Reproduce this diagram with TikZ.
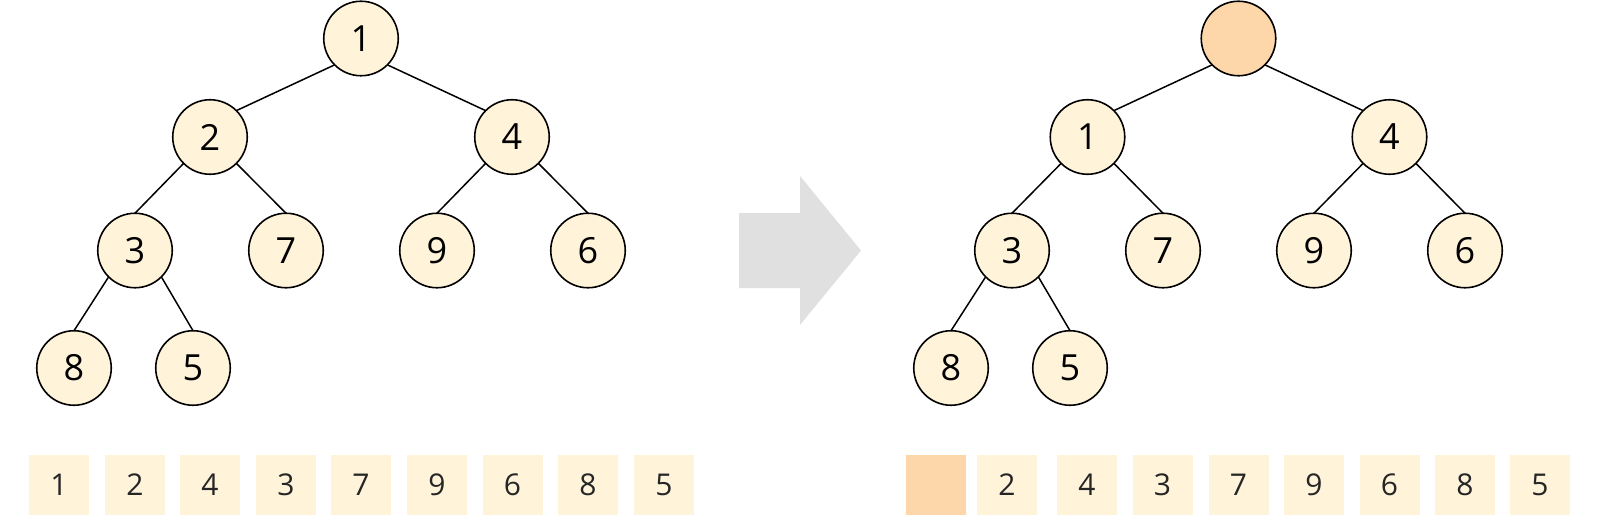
\documentclass[tikz,border=0pt]{standalone}
\usepackage{fontspec}
\setmainfont{Open Sans}
\definecolor{cream}{HTML}{FFF3DA}
\definecolor{peach}{HTML}{FDD6AA}
\definecolor{arrowgray}{HTML}{E0E0E0}
\begin{document}
\begin{tikzpicture}[x=1pt,y=-1pt,
  heapnode/.style={circle,draw=black,line width=1.6pt,fill=cream,minimum size=74.5pt,
    inner sep=0pt,outer sep=0pt,font=\fontsize{36}{40}\selectfont},
  cell/.style={rectangle,fill=cream,minimum size=60pt,inner sep=0pt,outer sep=0pt,
    text=black!85,font=\fontsize{30}{34}\selectfont},
  link/.style={line width=1.5pt}]
\useasboundingbox (0,0) rectangle (1600,516);
% left heap
\node[heapnode] (l1) at (361,38.5) {1};
\node[heapnode] (l2) at (210,137) {2};
\node[heapnode] (l4) at (512,137) {4};
\node[heapnode] (l3) at (135,250.5) {3};
\node[heapnode] (l7) at (286,250.5) {7};
\node[heapnode] (l9) at (437,250.5) {9};
\node[heapnode] (l6) at (588,250.5) {6};
\node[heapnode] (l8) at (74,368) {8};
\node[heapnode] (l5) at (193,368) {5};
\draw[link] (l1.south west) -- (l2.north east);
\draw[link] (l1.south east) -- (l4.north west);
\draw[link] (l2.south west) -- (l3.north);
\draw[link] (l2.south east) -- (l7.north);
\draw[link] (l4.south west) -- (l9.north);
\draw[link] (l4.south east) -- (l6.north);
\draw[link] (l3.south west) -- (l8.north);
\draw[link] (l3.south east) -- (l5.north);
% left array
\node[cell] (la1) at (59,485) {1};
\node[cell] (la2) at (135,485) {2};
\node[cell] (la3) at (210,485) {4};
\node[cell] (la4) at (286,485) {3};
\node[cell] (la5) at (361,485) {7};
\node[cell] (la6) at (437,485) {9};
\node[cell] (la7) at (512.5,485) {6};
\node[cell] (la8) at (588,485) {8};
\node[cell] (la9) at (664,485) {5};
% arrow
\fill[arrowgray] (739,213) -- (800,213) -- (800,176) -- (861,250.5) -- (800,325)
  -- (800,288) -- (739,288) -- cycle;
% right heap
\node[heapnode,fill=peach] (r0) at (1238.5,38.5) {};
\node[heapnode] (r1) at (1087.5,137) {1};
\node[heapnode] (r4) at (1389.5,137) {4};
\node[heapnode] (r3) at (1012,250.5) {3};
\node[heapnode] (r7) at (1163,250.5) {7};
\node[heapnode] (r9) at (1314,250.5) {9};
\node[heapnode] (r6) at (1465,250.5) {6};
\node[heapnode] (r8) at (951,368) {8};
\node[heapnode] (r5) at (1070,368) {5};
\draw[link] (r0.south west) -- (r1.north east);
\draw[link] (r0.south east) -- (r4.north west);
\draw[link] (r1.south west) -- (r3.north);
\draw[link] (r1.south east) -- (r7.north);
\draw[link] (r4.south west) -- (r9.north);
\draw[link] (r4.south east) -- (r6.north);
\draw[link] (r3.south west) -- (r8.north);
\draw[link] (r3.south east) -- (r5.north);
% right array
\node[cell,fill=peach] (ra1) at (936,485) {};
\node[cell] (ra2) at (1007,485) {2};
\node[cell] (ra3) at (1087,485) {4};
\node[cell] (ra4) at (1162.5,485) {3};
\node[cell] (ra5) at (1238.5,485) {7};
\node[cell] (ra6) at (1314,485) {9};
\node[cell] (ra7) at (1389.5,485) {6};
\node[cell] (ra8) at (1465,485) {8};
\node[cell] (ra9) at (1540,485) {5};
\end{tikzpicture}
\end{document}
